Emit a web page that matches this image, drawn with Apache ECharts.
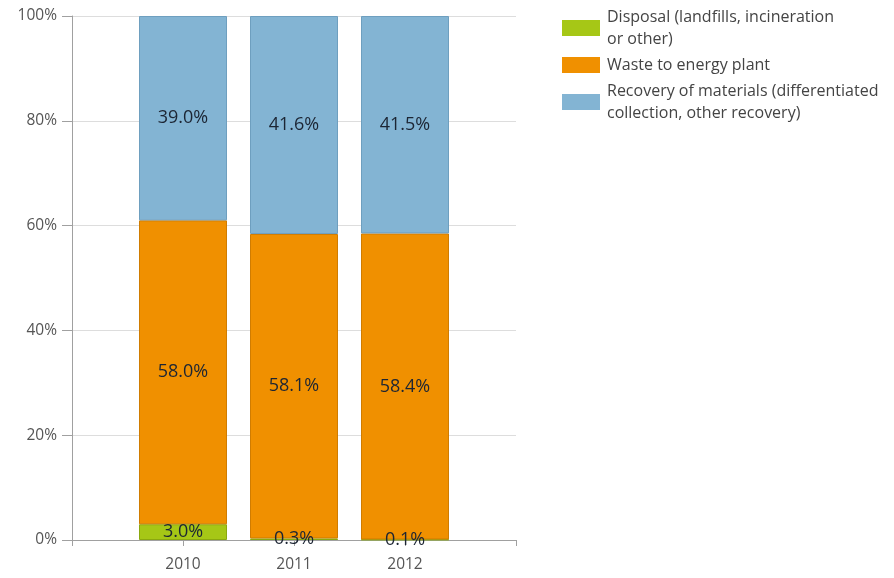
<!DOCTYPE html>
<html>
<head>
<meta charset="utf-8">
<script src="https://cdn.jsdelivr.net/npm/echarts@6/dist/echarts.min.js"></script>
<style>
  html, body { margin: 0; padding: 0; background: #fff; }
  #chart { width: 894px; height: 578px; }
</style>
</head>
<body>
<div id="chart"></div>
<script>
// Years shown on the category axis (padded with empty slots at both ends)
const years = ['', '2010', '2011', '2012', ''];

// Share of municipal waste by destination, in percent
const disposal = [null, 3.0, 0.3, 0.1, null];
const wasteToEnergy = [null, 58.0, 58.1, 58.4, null];
const recovery = [null, 39.0, 41.6, 41.5, null];

const seriesNames = [
  'Disposal (landfills, incineration\nor other)',
  'Waste to energy plant',
  'Recovery of materials (differentiated\ncollection, other recovery)'
];

const yTicks = [0, 20, 40, 60, 80, 100];

const FONT = 'Open Sans';

const chart = echarts.init(document.getElementById('chart'));

function barSeries(name, data, color, border) {
  return {
    name: name,
    type: 'bar',
    stack: 'total',
    barWidth: 88,
    data: data,
    itemStyle: { color: color, borderColor: border, borderWidth: 1 },
    label: {
      show: true,
      position: 'inside',
      color: '#1c2533',
      fontFamily: FONT,
      fontSize: 18,
      formatter: p => p.value == null ? '' : p.value.toFixed(1) + '%'
    }
  };
}

chart.setOption({
  animation: false,
  backgroundColor: '#fff',
  grid: { left: 72, right: 378, top: 16, bottom: 38, containLabel: false },
  legend: {
    orient: 'vertical',
    left: 562,
    top: 6,
    padding: 0,
    itemWidth: 38,
    itemHeight: 16,
    itemGap: 4,
    icon: 'rect',
    selectedMode: false,
    itemStyle: { borderWidth: 0 },
    textStyle: { fontFamily: FONT, fontSize: 16, color: '#444', lineHeight: 22, padding: [0, 0, 0, 2] },
    data: seriesNames
  },
  xAxis: {
    type: 'category',
    data: years,
    boundaryGap: false,
    axisLine: { lineStyle: { color: '#a0a0a0' } },
    axisTick: { show: true, length: 6, lineStyle: { color: '#a0a0a0' } },
    axisLabel: { fontFamily: FONT, fontSize: 15.5, color: '#555', margin: 17 },
    splitLine: { show: false }
  },
  yAxis: {
    type: 'value',
    min: yTicks[0],
    max: yTicks[yTicks.length - 1],
    interval: yTicks[1] - yTicks[0],
    axisLine: { show: true, lineStyle: { color: '#a0a0a0' } },
    axisTick: { show: true, length: 10, lineStyle: { color: '#a0a0a0' } },
    axisLabel: {
      fontFamily: FONT, fontSize: 15.5, color: '#555', margin: 15,
      formatter: v => v + '%'
    },
    splitLine: { show: true, lineStyle: { color: '#ddd' } }
  },
  series: [
    barSeries(seriesNames[0], disposal, '#a6c716', '#8aa80f'),
    barSeries(seriesNames[1], wasteToEnergy, '#f09000', '#d07c00'),
    barSeries(seriesNames[2], recovery, '#83b4d3', '#6e9fbf')
  ]
});
</script>
</body>
</html>
